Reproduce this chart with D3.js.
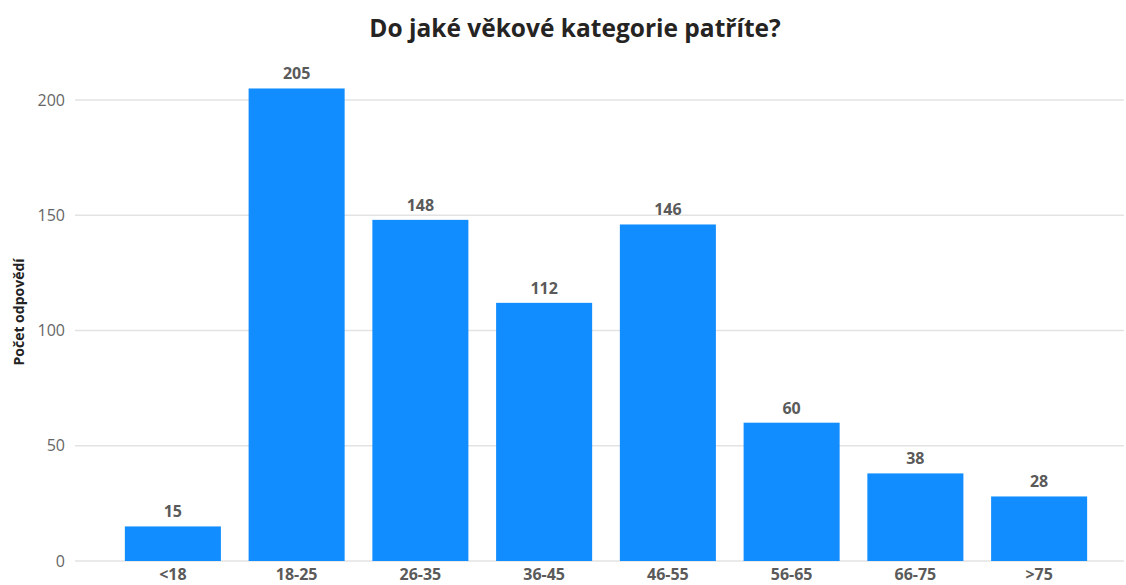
<!DOCTYPE html>
<html>
<head>
<meta charset="utf-8">
<script src="https://cdn.jsdelivr.net/npm/d3@7"></script>
<style>
  html, body { margin: 0; padding: 0; background: #fff; }
  svg { display: block; font-family: "Open Sans", sans-serif; }
</style>
</head>
<body>
<svg id="chart" width="1126" height="585"></svg>
<script>
const categories = ["<18", "18-25", "26-35", "36-45", "46-55", "56-65", "66-75", ">75"];
const values = [15, 205, 148, 112, 146, 60, 38, 28];
const yTicks = [0, 50, 100, 150, 200];
const title = "Do jaké věkové kategorie patříte?";
const yTitle = "Počet odpovědí";

const svg = d3.select("#chart");

const x = d3.scaleBand()
  .domain(categories)
  .range([111, 1101])
  .paddingInner(0.224)
  .paddingOuter(0.112);

const y = d3.scaleLinear().domain([0, 200]).range([561, 100]);

// gridlines
svg.append("g")
  .selectAll("line")
  .data(yTicks)
  .join("line")
  .attr("x1", 75).attr("x2", 1124)
  .attr("y1", d => y(d)).attr("y2", d => y(d))
  .attr("stroke", "#e3e3e3")
  .attr("stroke-width", 1.5);

// y tick labels
svg.append("g")
  .selectAll("text")
  .data(yTicks)
  .join("text")
  .attr("x", 65).attr("y", d => y(d))
  .attr("dy", "0.35em")
  .attr("text-anchor", "end")
  .attr("font-size", 16)
  .attr("fill", "#666")
  .text(d => d);

// bars
svg.append("g")
  .selectAll("rect")
  .data(values)
  .join("rect")
  .attr("x", (d, i) => x(categories[i]))
  .attr("width", x.bandwidth())
  .attr("y", d => y(d))
  .attr("height", d => y(0) - y(d))
  .attr("fill", "#118DFF");

// value labels
svg.append("g")
  .selectAll("text")
  .data(values)
  .join("text")
  .attr("x", (d, i) => x(categories[i]) + x.bandwidth() / 2)
  .attr("y", d => y(d) - 9)
  .attr("text-anchor", "middle")
  .attr("font-size", 16)
  .attr("font-weight", "bold")
  .attr("fill", "#5a5a5a")
  .text(d => d);

// x labels
svg.append("g")
  .selectAll("text")
  .data(categories)
  .join("text")
  .attr("x", d => x(d) + x.bandwidth() / 2)
  .attr("y", 580)
  .attr("text-anchor", "middle")
  .attr("font-size", 16)
  .attr("font-weight", "bold")
  .attr("fill", "#5a5a5a")
  .text(d => d);

// y axis title
svg.append("text")
  .attr("transform", "translate(24,312) rotate(-90)")
  .attr("text-anchor", "middle")
  .attr("font-size", 14)
  .attr("font-weight", "bold")
  .attr("fill", "#222")
  .text(yTitle);

// title
svg.append("text")
  .attr("x", 575).attr("y", 37)
  .attr("text-anchor", "middle")
  .attr("font-size", 24.5)
  .attr("font-weight", "bold")
  .attr("fill", "#252423")
  .text(title);
</script>
</body>
</html>
